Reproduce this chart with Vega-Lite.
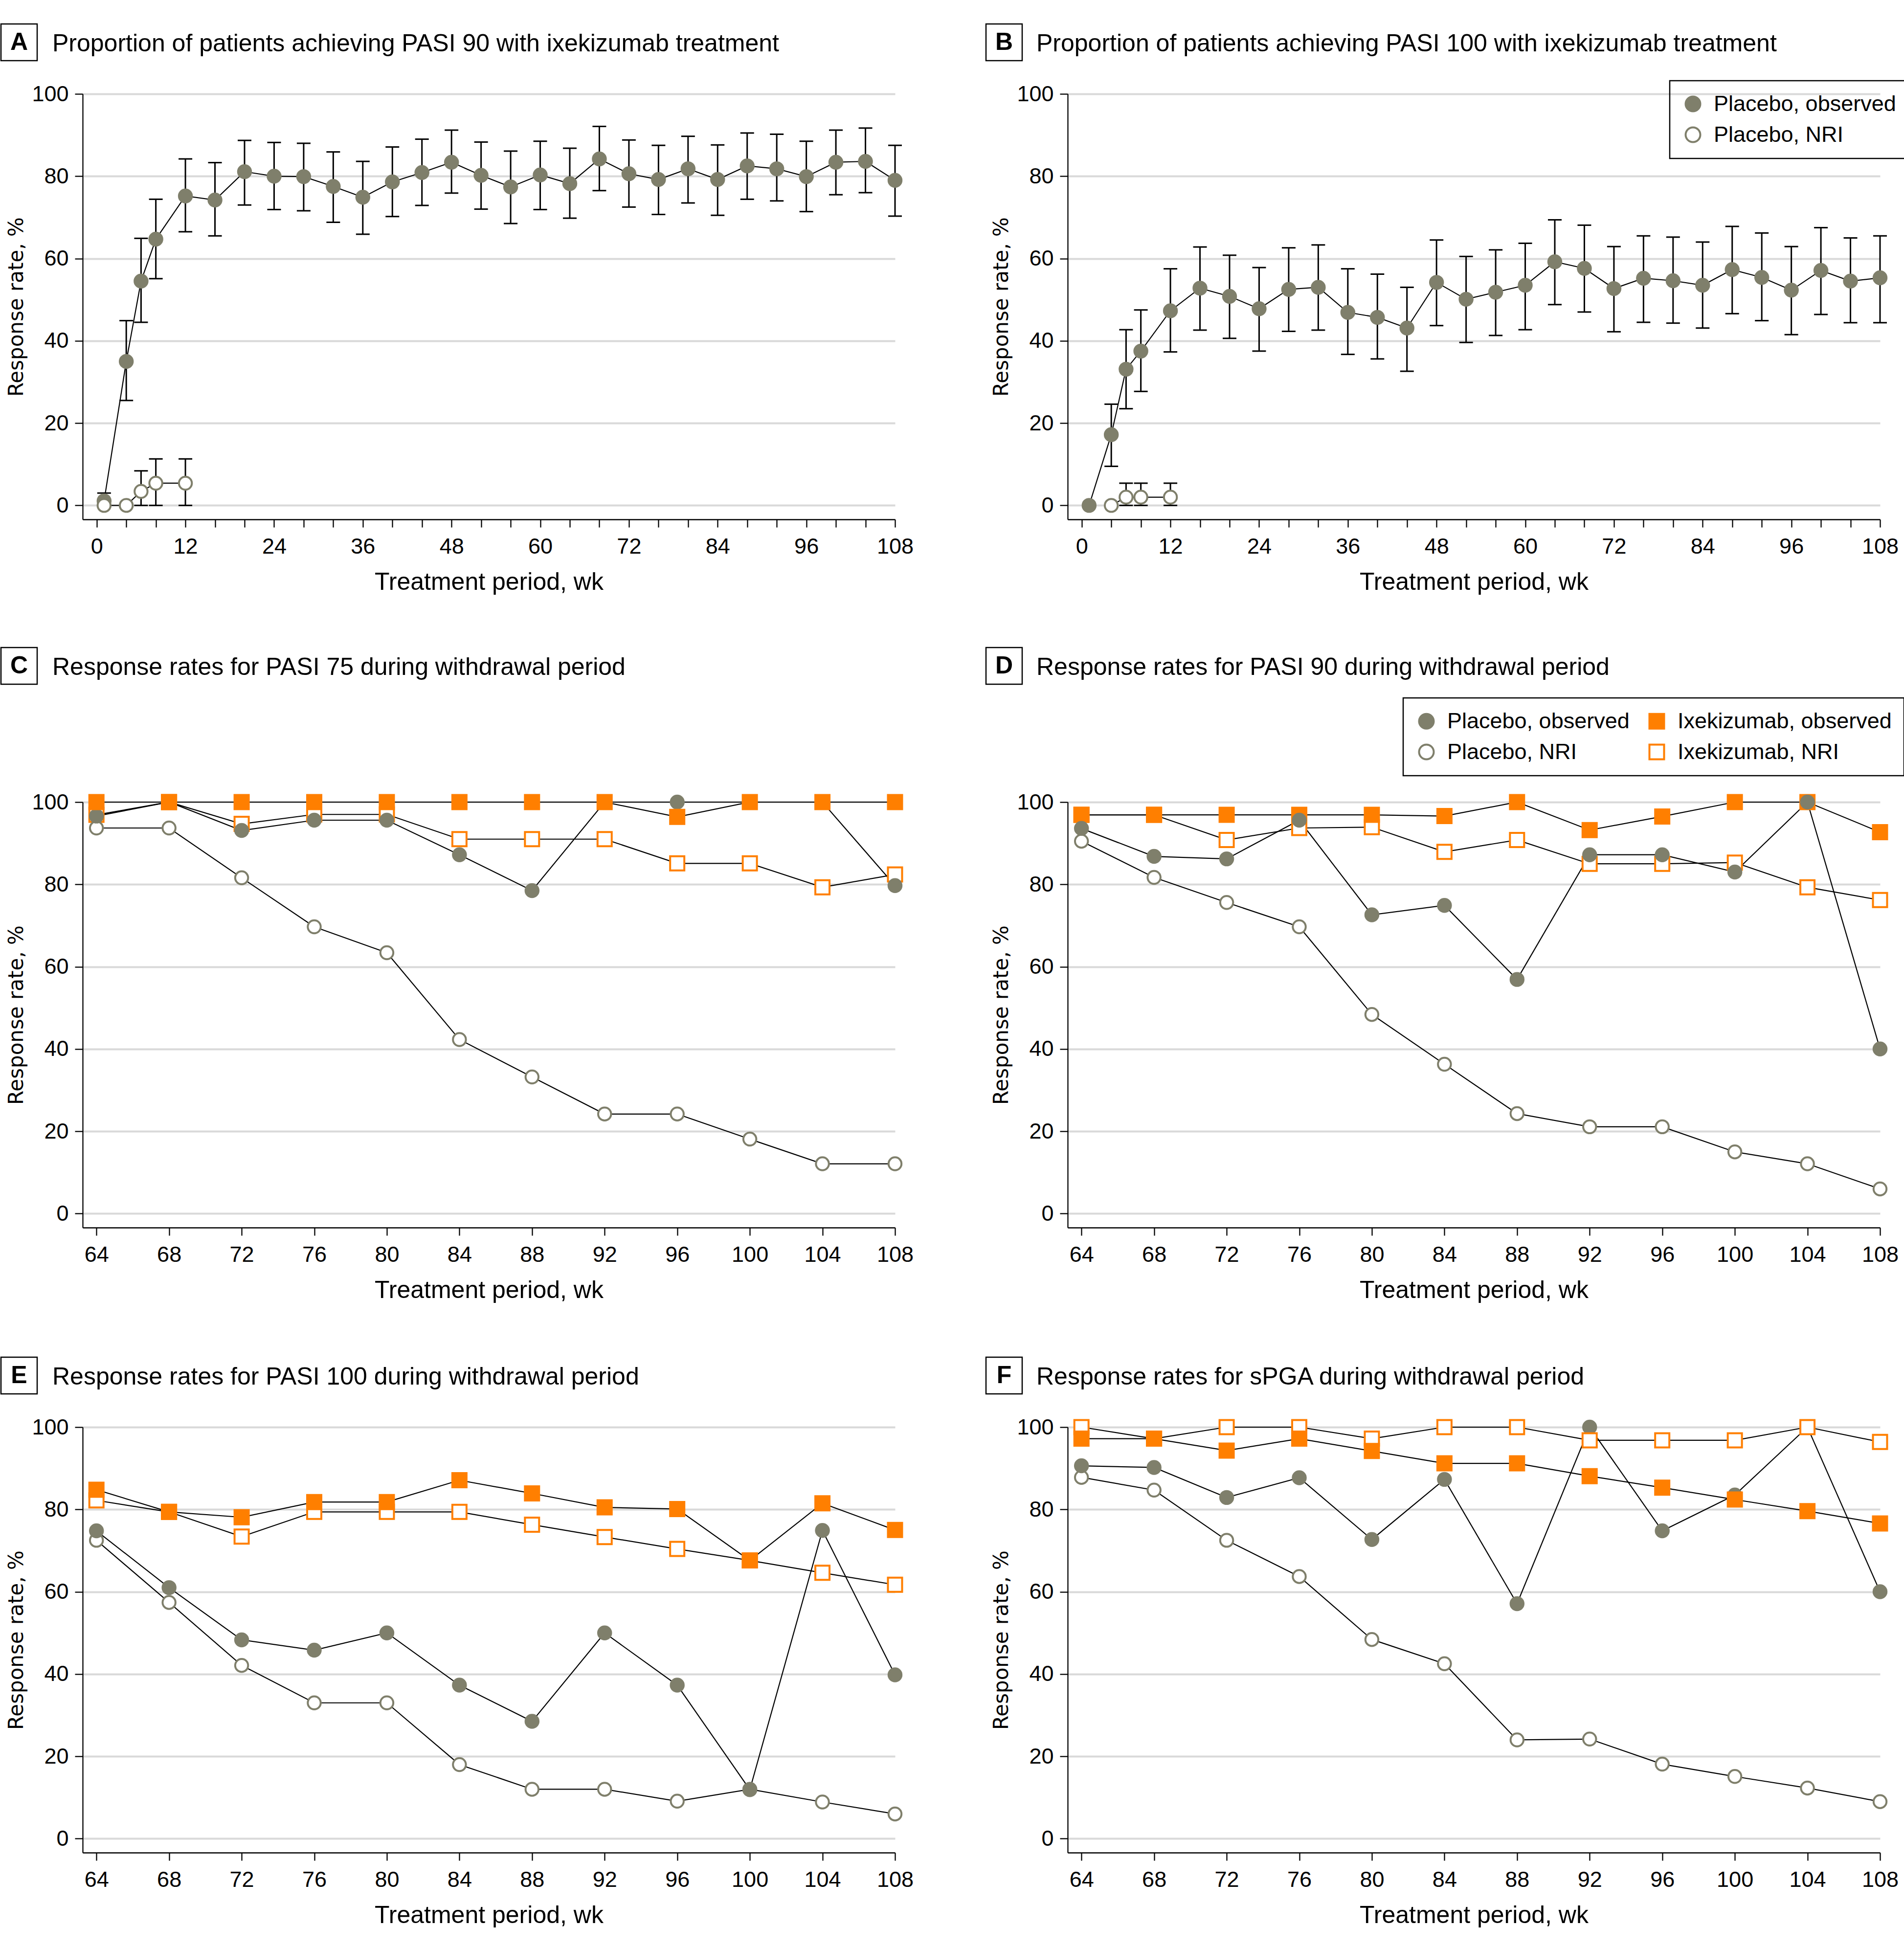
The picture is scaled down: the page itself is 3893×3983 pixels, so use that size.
{
"$schema":"https://vega.github.io/schema/vega-lite/v6.json",
"background":"white",
"padding":{"left":0,"top":47,"right":0,"bottom":0},
"columns":4,"align":"each","bounds":"flush","spacing":{"row":68,"column":93},
"resolve":{"scale":{"x":"independent","y":"independent","shape":"independent","fill":"independent","stroke":"independent"}},
"datasets":{"d":[
{"p":"A","w":1,"s":"Placebo, observed","v":1.1,"lo":0,"hi":3.0},
{"p":"A","w":4,"s":"Placebo, observed","v":35.0,"lo":25.5,"hi":44.9},
{"p":"A","w":6,"s":"Placebo, observed","v":54.5,"lo":44.5,"hi":64.9},
{"p":"A","w":8,"s":"Placebo, observed","v":64.7,"lo":55.1,"hi":74.4},
{"p":"A","w":12,"s":"Placebo, observed","v":75.2,"lo":66.5,"hi":84.2},
{"p":"A","w":16,"s":"Placebo, observed","v":74.2,"lo":65.5,"hi":83.3},
{"p":"A","w":20,"s":"Placebo, observed","v":81.1,"lo":73.0,"hi":88.7},
{"p":"A","w":24,"s":"Placebo, observed","v":80.0,"lo":71.9,"hi":88.2},
{"p":"A","w":28,"s":"Placebo, observed","v":79.9,"lo":71.6,"hi":88.0},
{"p":"A","w":32,"s":"Placebo, observed","v":77.5,"lo":68.8,"hi":85.9},
{"p":"A","w":36,"s":"Placebo, observed","v":74.9,"lo":65.9,"hi":83.6},
{"p":"A","w":40,"s":"Placebo, observed","v":78.6,"lo":70.2,"hi":87.1},
{"p":"A","w":44,"s":"Placebo, observed","v":80.9,"lo":72.9,"hi":89.0},
{"p":"A","w":48,"s":"Placebo, observed","v":83.4,"lo":75.9,"hi":91.2},
{"p":"A","w":52,"s":"Placebo, observed","v":80.2,"lo":72.0,"hi":88.3},
{"p":"A","w":56,"s":"Placebo, observed","v":77.4,"lo":68.5,"hi":86.1},
{"p":"A","w":60,"s":"Placebo, observed","v":80.3,"lo":71.9,"hi":88.5},
{"p":"A","w":64,"s":"Placebo, observed","v":78.2,"lo":69.8,"hi":86.8},
{"p":"A","w":68,"s":"Placebo, observed","v":84.2,"lo":76.5,"hi":92.1},
{"p":"A","w":72,"s":"Placebo, observed","v":80.6,"lo":72.5,"hi":88.8},
{"p":"A","w":76,"s":"Placebo, observed","v":79.2,"lo":70.7,"hi":87.5},
{"p":"A","w":80,"s":"Placebo, observed","v":81.8,"lo":73.5,"hi":89.7},
{"p":"A","w":84,"s":"Placebo, observed","v":79.2,"lo":70.5,"hi":87.6},
{"p":"A","w":88,"s":"Placebo, observed","v":82.5,"lo":74.4,"hi":90.5},
{"p":"A","w":92,"s":"Placebo, observed","v":81.8,"lo":74.0,"hi":90.2},
{"p":"A","w":96,"s":"Placebo, observed","v":79.9,"lo":71.4,"hi":88.5},
{"p":"A","w":100,"s":"Placebo, observed","v":83.4,"lo":75.5,"hi":91.2},
{"p":"A","w":104,"s":"Placebo, observed","v":83.6,"lo":76.0,"hi":91.7},
{"p":"A","w":108,"s":"Placebo, observed","v":79.0,"lo":70.3,"hi":87.5},
{"p":"A","w":1,"s":"Placebo, NRI","v":0},
{"p":"A","w":4,"s":"Placebo, NRI","v":0},
{"p":"A","w":6,"s":"Placebo, NRI","v":3.4,"lo":0,"hi":8.4},
{"p":"A","w":8,"s":"Placebo, NRI","v":5.4,"lo":0,"hi":11.3},
{"p":"A","w":12,"s":"Placebo, NRI","v":5.4,"lo":0,"hi":11.3},
{"p":"B","w":1,"s":"Placebo, observed","v":0},
{"p":"B","w":4,"s":"Placebo, observed","v":17.2,"lo":9.5,"hi":24.6},
{"p":"B","w":6,"s":"Placebo, observed","v":33.1,"lo":23.5,"hi":42.7},
{"p":"B","w":8,"s":"Placebo, observed","v":37.5,"lo":27.7,"hi":47.5},
{"p":"B","w":12,"s":"Placebo, observed","v":47.3,"lo":37.3,"hi":57.5},
{"p":"B","w":16,"s":"Placebo, observed","v":52.8,"lo":42.6,"hi":62.8},
{"p":"B","w":20,"s":"Placebo, observed","v":50.8,"lo":40.6,"hi":60.8},
{"p":"B","w":24,"s":"Placebo, observed","v":47.8,"lo":37.5,"hi":57.8},
{"p":"B","w":28,"s":"Placebo, observed","v":52.5,"lo":42.3,"hi":62.6},
{"p":"B","w":32,"s":"Placebo, observed","v":53.0,"lo":42.6,"hi":63.3},
{"p":"B","w":36,"s":"Placebo, observed","v":46.9,"lo":36.7,"hi":57.5},
{"p":"B","w":40,"s":"Placebo, observed","v":45.7,"lo":35.6,"hi":56.2},
{"p":"B","w":44,"s":"Placebo, observed","v":43.1,"lo":32.6,"hi":53.0},
{"p":"B","w":48,"s":"Placebo, observed","v":54.2,"lo":43.7,"hi":64.5},
{"p":"B","w":52,"s":"Placebo, observed","v":50.1,"lo":39.6,"hi":60.5},
{"p":"B","w":56,"s":"Placebo, observed","v":51.8,"lo":41.3,"hi":62.1},
{"p":"B","w":60,"s":"Placebo, observed","v":53.5,"lo":42.7,"hi":63.7},
{"p":"B","w":64,"s":"Placebo, observed","v":59.2,"lo":48.8,"hi":69.4},
{"p":"B","w":68,"s":"Placebo, observed","v":57.6,"lo":47.0,"hi":68.1},
{"p":"B","w":72,"s":"Placebo, observed","v":52.7,"lo":42.2,"hi":62.9},
{"p":"B","w":76,"s":"Placebo, observed","v":55.2,"lo":44.5,"hi":65.5},
{"p":"B","w":80,"s":"Placebo, observed","v":54.6,"lo":44.3,"hi":65.2},
{"p":"B","w":84,"s":"Placebo, observed","v":53.5,"lo":43.1,"hi":64.0},
{"p":"B","w":88,"s":"Placebo, observed","v":57.3,"lo":46.6,"hi":67.8},
{"p":"B","w":92,"s":"Placebo, observed","v":55.4,"lo":44.9,"hi":66.2},
{"p":"B","w":96,"s":"Placebo, observed","v":52.3,"lo":41.5,"hi":62.9},
{"p":"B","w":100,"s":"Placebo, observed","v":57.1,"lo":46.4,"hi":67.5},
{"p":"B","w":104,"s":"Placebo, observed","v":54.5,"lo":44.4,"hi":65.0},
{"p":"B","w":108,"s":"Placebo, observed","v":55.3,"lo":44.4,"hi":65.5},
{"p":"B","w":4,"s":"Placebo, NRI","v":0},
{"p":"B","w":6,"s":"Placebo, NRI","v":2.0,"lo":0,"hi":5.4},
{"p":"B","w":8,"s":"Placebo, NRI","v":2.0,"lo":0,"hi":5.4},
{"p":"B","w":12,"s":"Placebo, NRI","v":2.0,"lo":0,"hi":5.4},
{"p":"C","w":64,"s":"Ixekizumab, NRI","v":96.9},{"p":"C","w":68,"s":"Ixekizumab, NRI","v":100},{"p":"C","w":72,"s":"Ixekizumab, NRI","v":94.7},{"p":"C","w":76,"s":"Ixekizumab, NRI","v":97.0},{"p":"C","w":80,"s":"Ixekizumab, NRI","v":97.0},{"p":"C","w":84,"s":"Ixekizumab, NRI","v":91.0},{"p":"C","w":88,"s":"Ixekizumab, NRI","v":91.0},{"p":"C","w":92,"s":"Ixekizumab, NRI","v":91.0},{"p":"C","w":96,"s":"Ixekizumab, NRI","v":85.1},{"p":"C","w":100,"s":"Ixekizumab, NRI","v":85.1},{"p":"C","w":104,"s":"Ixekizumab, NRI","v":79.3},{"p":"C","w":108,"s":"Ixekizumab, NRI","v":82.4},
{"p":"C","w":64,"s":"Placebo, NRI","v":93.7},{"p":"C","w":68,"s":"Placebo, NRI","v":93.7},{"p":"C","w":72,"s":"Placebo, NRI","v":81.6},{"p":"C","w":76,"s":"Placebo, NRI","v":69.7},{"p":"C","w":80,"s":"Placebo, NRI","v":63.4},{"p":"C","w":84,"s":"Placebo, NRI","v":42.3},{"p":"C","w":88,"s":"Placebo, NRI","v":33.2},{"p":"C","w":92,"s":"Placebo, NRI","v":24.2},{"p":"C","w":96,"s":"Placebo, NRI","v":24.2},{"p":"C","w":100,"s":"Placebo, NRI","v":18.1},{"p":"C","w":104,"s":"Placebo, NRI","v":12.1},{"p":"C","w":108,"s":"Placebo, NRI","v":12.1},
{"p":"C","w":64,"s":"Placebo, observed","v":96.6},{"p":"C","w":68,"s":"Placebo, observed","v":100},{"p":"C","w":72,"s":"Placebo, observed","v":93.1},{"p":"C","w":76,"s":"Placebo, observed","v":95.6},{"p":"C","w":80,"s":"Placebo, observed","v":95.6},{"p":"C","w":84,"s":"Placebo, observed","v":87.2},{"p":"C","w":88,"s":"Placebo, observed","v":78.5},{"p":"C","w":92,"s":"Placebo, observed","v":100},{"p":"C","w":96,"s":"Placebo, observed","v":100},{"p":"C","w":100,"s":"Placebo, observed","v":100},{"p":"C","w":104,"s":"Placebo, observed","v":100},{"p":"C","w":108,"s":"Placebo, observed","v":79.7},
{"p":"C","w":64,"s":"Ixekizumab, observed","v":100},{"p":"C","w":68,"s":"Ixekizumab, observed","v":100},{"p":"C","w":72,"s":"Ixekizumab, observed","v":100},{"p":"C","w":76,"s":"Ixekizumab, observed","v":100},{"p":"C","w":80,"s":"Ixekizumab, observed","v":100},{"p":"C","w":84,"s":"Ixekizumab, observed","v":100},{"p":"C","w":88,"s":"Ixekizumab, observed","v":100},{"p":"C","w":92,"s":"Ixekizumab, observed","v":100},{"p":"C","w":96,"s":"Ixekizumab, observed","v":96.4},{"p":"C","w":100,"s":"Ixekizumab, observed","v":100},{"p":"C","w":104,"s":"Ixekizumab, observed","v":100},{"p":"C","w":108,"s":"Ixekizumab, observed","v":100},
{"p":"D","w":64,"s":"Ixekizumab, NRI","v":96.9},{"p":"D","w":68,"s":"Ixekizumab, NRI","v":96.9},{"p":"D","w":72,"s":"Ixekizumab, NRI","v":90.8},{"p":"D","w":76,"s":"Ixekizumab, NRI","v":93.7},{"p":"D","w":80,"s":"Ixekizumab, NRI","v":93.9},{"p":"D","w":84,"s":"Ixekizumab, NRI","v":87.9},{"p":"D","w":88,"s":"Ixekizumab, NRI","v":90.8},{"p":"D","w":92,"s":"Ixekizumab, NRI","v":85.0},{"p":"D","w":96,"s":"Ixekizumab, NRI","v":85.0},{"p":"D","w":100,"s":"Ixekizumab, NRI","v":85.3},{"p":"D","w":104,"s":"Ixekizumab, NRI","v":79.3},{"p":"D","w":108,"s":"Ixekizumab, NRI","v":76.2},
{"p":"D","w":64,"s":"Placebo, NRI","v":90.5},{"p":"D","w":68,"s":"Placebo, NRI","v":81.7},{"p":"D","w":72,"s":"Placebo, NRI","v":75.6},{"p":"D","w":76,"s":"Placebo, NRI","v":69.7},{"p":"D","w":80,"s":"Placebo, NRI","v":48.4},{"p":"D","w":84,"s":"Placebo, NRI","v":36.3},{"p":"D","w":88,"s":"Placebo, NRI","v":24.3},{"p":"D","w":92,"s":"Placebo, NRI","v":21.1},{"p":"D","w":96,"s":"Placebo, NRI","v":21.1},{"p":"D","w":100,"s":"Placebo, NRI","v":15.0},{"p":"D","w":104,"s":"Placebo, NRI","v":12.1},{"p":"D","w":108,"s":"Placebo, NRI","v":6.0},
{"p":"D","w":64,"s":"Placebo, observed","v":93.6},{"p":"D","w":68,"s":"Placebo, observed","v":86.8},{"p":"D","w":72,"s":"Placebo, observed","v":86.2},{"p":"D","w":76,"s":"Placebo, observed","v":95.6},{"p":"D","w":80,"s":"Placebo, observed","v":72.6},{"p":"D","w":84,"s":"Placebo, observed","v":74.9},{"p":"D","w":88,"s":"Placebo, observed","v":56.9},{"p":"D","w":92,"s":"Placebo, observed","v":87.2},{"p":"D","w":96,"s":"Placebo, observed","v":87.2},{"p":"D","w":100,"s":"Placebo, observed","v":83.0},{"p":"D","w":104,"s":"Placebo, observed","v":100},{"p":"D","w":108,"s":"Placebo, observed","v":40.0},
{"p":"D","w":64,"s":"Ixekizumab, observed","v":96.9},{"p":"D","w":68,"s":"Ixekizumab, observed","v":96.9},{"p":"D","w":72,"s":"Ixekizumab, observed","v":96.9},{"p":"D","w":76,"s":"Ixekizumab, observed","v":96.9},{"p":"D","w":80,"s":"Ixekizumab, observed","v":96.9},{"p":"D","w":84,"s":"Ixekizumab, observed","v":96.6},{"p":"D","w":88,"s":"Ixekizumab, observed","v":100},{"p":"D","w":92,"s":"Ixekizumab, observed","v":93.2},{"p":"D","w":96,"s":"Ixekizumab, observed","v":96.5},{"p":"D","w":100,"s":"Ixekizumab, observed","v":100},{"p":"D","w":104,"s":"Ixekizumab, observed","v":100},{"p":"D","w":108,"s":"Ixekizumab, observed","v":92.7},
{"p":"E","w":64,"s":"Ixekizumab, NRI","v":82.2},{"p":"E","w":68,"s":"Ixekizumab, NRI","v":79.4},{"p":"E","w":72,"s":"Ixekizumab, NRI","v":73.4},{"p":"E","w":76,"s":"Ixekizumab, NRI","v":79.4},{"p":"E","w":80,"s":"Ixekizumab, NRI","v":79.4},{"p":"E","w":84,"s":"Ixekizumab, NRI","v":79.4},{"p":"E","w":88,"s":"Ixekizumab, NRI","v":76.3},{"p":"E","w":92,"s":"Ixekizumab, NRI","v":73.3},{"p":"E","w":96,"s":"Ixekizumab, NRI","v":70.4},{"p":"E","w":100,"s":"Ixekizumab, NRI","v":67.6},{"p":"E","w":104,"s":"Ixekizumab, NRI","v":64.6},{"p":"E","w":108,"s":"Ixekizumab, NRI","v":61.7},
{"p":"E","w":64,"s":"Placebo, NRI","v":72.5},{"p":"E","w":68,"s":"Placebo, NRI","v":57.4},{"p":"E","w":72,"s":"Placebo, NRI","v":42.1},{"p":"E","w":76,"s":"Placebo, NRI","v":33.0},{"p":"E","w":80,"s":"Placebo, NRI","v":33.0},{"p":"E","w":84,"s":"Placebo, NRI","v":18.0},{"p":"E","w":88,"s":"Placebo, NRI","v":12.0},{"p":"E","w":92,"s":"Placebo, NRI","v":12.0},{"p":"E","w":96,"s":"Placebo, NRI","v":9.1},{"p":"E","w":100,"s":"Placebo, NRI","v":12.0},{"p":"E","w":104,"s":"Placebo, NRI","v":8.9},{"p":"E","w":108,"s":"Placebo, NRI","v":6.0},
{"p":"E","w":64,"s":"Placebo, observed","v":74.8},{"p":"E","w":68,"s":"Placebo, observed","v":61.0},{"p":"E","w":72,"s":"Placebo, observed","v":48.3},{"p":"E","w":76,"s":"Placebo, observed","v":45.8},{"p":"E","w":80,"s":"Placebo, observed","v":50.0},{"p":"E","w":84,"s":"Placebo, observed","v":37.3},{"p":"E","w":88,"s":"Placebo, observed","v":28.5},{"p":"E","w":92,"s":"Placebo, observed","v":50.0},{"p":"E","w":96,"s":"Placebo, observed","v":37.3},{"p":"E","w":100,"s":"Placebo, observed","v":11.9},{"p":"E","w":104,"s":"Placebo, observed","v":74.9},{"p":"E","w":108,"s":"Placebo, observed","v":39.8},
{"p":"E","w":64,"s":"Ixekizumab, observed","v":84.8},{"p":"E","w":68,"s":"Ixekizumab, observed","v":79.4},{"p":"E","w":72,"s":"Ixekizumab, observed","v":78.1},{"p":"E","w":76,"s":"Ixekizumab, observed","v":81.8},{"p":"E","w":80,"s":"Ixekizumab, observed","v":81.8},{"p":"E","w":84,"s":"Ixekizumab, observed","v":87.1},{"p":"E","w":88,"s":"Ixekizumab, observed","v":83.9},{"p":"E","w":92,"s":"Ixekizumab, observed","v":80.5},{"p":"E","w":96,"s":"Ixekizumab, observed","v":80.1},{"p":"E","w":100,"s":"Ixekizumab, observed","v":67.6},{"p":"E","w":104,"s":"Ixekizumab, observed","v":81.5},{"p":"E","w":108,"s":"Ixekizumab, observed","v":75.0},
{"p":"F","w":64,"s":"Ixekizumab, NRI","v":100},{"p":"F","w":68,"s":"Ixekizumab, NRI","v":97.2},{"p":"F","w":72,"s":"Ixekizumab, NRI","v":100},{"p":"F","w":76,"s":"Ixekizumab, NRI","v":100},{"p":"F","w":80,"s":"Ixekizumab, NRI","v":97.2},{"p":"F","w":84,"s":"Ixekizumab, NRI","v":100},{"p":"F","w":88,"s":"Ixekizumab, NRI","v":100},{"p":"F","w":92,"s":"Ixekizumab, NRI","v":96.8},{"p":"F","w":96,"s":"Ixekizumab, NRI","v":96.8},{"p":"F","w":100,"s":"Ixekizumab, NRI","v":96.8},{"p":"F","w":104,"s":"Ixekizumab, NRI","v":100},{"p":"F","w":108,"s":"Ixekizumab, NRI","v":96.4},
{"p":"F","w":64,"s":"Placebo, NRI","v":87.8},{"p":"F","w":68,"s":"Placebo, NRI","v":84.7},{"p":"F","w":72,"s":"Placebo, NRI","v":72.5},{"p":"F","w":76,"s":"Placebo, NRI","v":63.7},{"p":"F","w":80,"s":"Placebo, NRI","v":48.4},{"p":"F","w":84,"s":"Placebo, NRI","v":42.5},{"p":"F","w":88,"s":"Placebo, NRI","v":24.0},{"p":"F","w":92,"s":"Placebo, NRI","v":24.2},{"p":"F","w":96,"s":"Placebo, NRI","v":18.1},{"p":"F","w":100,"s":"Placebo, NRI","v":15.1},{"p":"F","w":104,"s":"Placebo, NRI","v":12.3},{"p":"F","w":108,"s":"Placebo, NRI","v":9.0},
{"p":"F","w":64,"s":"Placebo, observed","v":90.6},{"p":"F","w":68,"s":"Placebo, observed","v":90.2},{"p":"F","w":72,"s":"Placebo, observed","v":82.9},{"p":"F","w":76,"s":"Placebo, observed","v":87.7},{"p":"F","w":80,"s":"Placebo, observed","v":72.7},{"p":"F","w":84,"s":"Placebo, observed","v":87.3},{"p":"F","w":88,"s":"Placebo, observed","v":57.1},{"p":"F","w":92,"s":"Placebo, observed","v":100},{"p":"F","w":96,"s":"Placebo, observed","v":74.8},{"p":"F","w":100,"s":"Placebo, observed","v":83.5},{"p":"F","w":104,"s":"Placebo, observed","v":100},{"p":"F","w":108,"s":"Placebo, observed","v":60.0},
{"p":"F","w":64,"s":"Ixekizumab, observed","v":97.2},{"p":"F","w":68,"s":"Ixekizumab, observed","v":97.2},{"p":"F","w":72,"s":"Ixekizumab, observed","v":94.3},{"p":"F","w":76,"s":"Ixekizumab, observed","v":97.2},{"p":"F","w":80,"s":"Ixekizumab, observed","v":94.2},{"p":"F","w":84,"s":"Ixekizumab, observed","v":91.2},{"p":"F","w":88,"s":"Ixekizumab, observed","v":91.2},{"p":"F","w":92,"s":"Ixekizumab, observed","v":88.1},{"p":"F","w":96,"s":"Ixekizumab, observed","v":85.3},{"p":"F","w":100,"s":"Ixekizumab, observed","v":82.4},{"p":"F","w":104,"s":"Ixekizumab, observed","v":79.6},{"p":"F","w":108,"s":"Ixekizumab, observed","v":76.6}
]},
"concat":[
{"width":74,"height":75,"view":{"stroke":"#000","strokeWidth":2.5},"data":{"values":[{"l":"A"}]},"mark":{"type":"text","fontSize":50,"fontWeight":"bold","font":"Liberation Sans","color":"#000"},"encoding":{"text":{"field":"l","type":"nominal"}}},
{"width":1754,"height":1,"data":{"values":[]},"mark":"point","title":{"text":"Proportion of patients achieving PASI 90 with ixekizumab treatment","orient":"bottom","anchor":"start","align":"left","offset":15,"dx":-62,"frame":"group"}},
{"width":74,"height":75,"view":{"stroke":"#000","strokeWidth":2.5},"data":{"values":[{"l":"B"}]},"mark":{"type":"text","fontSize":50,"fontWeight":"bold","font":"Liberation Sans","color":"#000"},"encoding":{"text":{"field":"l","type":"nominal"}}},
{"width":1,"height":1,"data":{"values":[]},"mark":"point","title":{"text":"Proportion of patients achieving PASI 100 with ixekizumab treatment","orient":"bottom","anchor":"start","align":"left","offset":15,"dx":-64,"frame":"group"}},

{"width":1,"height":1064,"data":{"values":[]},"mark":"point"},
{"width":1661,"height":870,"data":{"name":"d"},"transform":[{"filter":"datum.p==='A'"}],
 "encoding":{"x":{"field":"w","type":"quantitative","scale":{"domain":[-1.9,108],"nice":false,"zero":false},"axis":{"title":"Treatment period, wk","values":[0,4,8,12,16,20,24,28,32,36,40,44,48,52,56,60,64,68,72,76,80,84,88,92,96,100,104,108],"labelExpr":"datum.value % 12 === 0 ? datum.label : ''"}},
  "y":{"field":"v","type":"quantitative","title":"Response rate, %","scale":{"domain":[-3.4,100],"nice":false,"zero":false},"axis":{"values":[0,20,40,60,80,100]}}},
 "layer":[
  {"mark":{"type":"line","color":"#000","strokeWidth":2.2},"encoding":{"detail":{"field":"s","type":"nominal"}}},
  {"transform":[{"filter":"isValid(datum.lo)"}],"mark":{"type":"rule","color":"#000","strokeWidth":3},"encoding":{"y":{"field":"lo","type":"quantitative","title":"Response rate, %"},"y2":{"field":"hi"}}},
  {"transform":[{"filter":"isValid(datum.lo)"}],"mark":{"type":"tick","orient":"horizontal","size":28,"thickness":3,"color":"#000","opacity":1},"encoding":{"y":{"field":"lo","type":"quantitative","title":"Response rate, %"}}},
  {"transform":[{"filter":"isValid(datum.hi)"}],"mark":{"type":"tick","orient":"horizontal","size":28,"thickness":3,"color":"#000","opacity":1},"encoding":{"y":{"field":"hi","type":"quantitative","title":"Response rate, %"}}},
  {"mark":{"type":"point","filled":true,"strokeWidth":4,"opacity":1,"size":700},"encoding":{
   "shape":{"field":"s","type":"nominal","scale":{"domain":["Placebo, observed","Placebo, NRI"],"range":["circle","circle"]},"legend":null},
   "fill":{"field":"s","type":"nominal","scale":{"domain":["Placebo, observed","Placebo, NRI"],"range":["#7f7f6b","#ffffff"]},"legend":null},
   "stroke":{"field":"s","type":"nominal","scale":{"domain":["Placebo, observed","Placebo, NRI"],"range":["#7f7f6b","#7f7f6b"]},"legend":null}}}
 ]},
{"width":1,"height":1,"data":{"values":[]},"mark":"point"},
{"width":1661,"height":870,"data":{"name":"d"},"transform":[{"filter":"datum.p==='B'"}],
 "encoding":{"x":{"field":"w","type":"quantitative","scale":{"domain":[-1.9,108],"nice":false,"zero":false},"axis":{"title":"Treatment period, wk","values":[0,4,8,12,16,20,24,28,32,36,40,44,48,52,56,60,64,68,72,76,80,84,88,92,96,100,104,108],"labelExpr":"datum.value % 12 === 0 ? datum.label : ''"}},
  "y":{"field":"v","type":"quantitative","title":"Response rate, %","scale":{"domain":[-3.4,100],"nice":false,"zero":false},"axis":{"values":[0,20,40,60,80,100]}}},
 "layer":[
  {"mark":{"type":"line","color":"#000","strokeWidth":2.2},"encoding":{"detail":{"field":"s","type":"nominal"}}},
  {"transform":[{"filter":"isValid(datum.lo)"}],"mark":{"type":"rule","color":"#000","strokeWidth":3},"encoding":{"y":{"field":"lo","type":"quantitative","title":"Response rate, %"},"y2":{"field":"hi"}}},
  {"transform":[{"filter":"isValid(datum.lo)"}],"mark":{"type":"tick","orient":"horizontal","size":28,"thickness":3,"color":"#000","opacity":1},"encoding":{"y":{"field":"lo","type":"quantitative","title":"Response rate, %"}}},
  {"transform":[{"filter":"isValid(datum.hi)"}],"mark":{"type":"tick","orient":"horizontal","size":28,"thickness":3,"color":"#000","opacity":1},"encoding":{"y":{"field":"hi","type":"quantitative","title":"Response rate, %"}}},
  {"mark":{"type":"point","filled":true,"strokeWidth":4,"opacity":1,"size":700},"encoding":{
   "shape":{"field":"s","type":"nominal","scale":{"domain":["Placebo, observed","Placebo, NRI"],"range":["circle","circle"]},"legend":{"title":null,"orient":"none","legendX":1231,"legendY":-27}},
   "fill":{"field":"s","type":"nominal","scale":{"domain":["Placebo, observed","Placebo, NRI"],"range":["#7f7f6b","#ffffff"]},"legend":{"title":null,"orient":"none","legendX":1231,"legendY":-27}},
   "stroke":{"field":"s","type":"nominal","scale":{"domain":["Placebo, observed","Placebo, NRI"],"range":["#7f7f6b","#7f7f6b"]},"legend":{"title":null,"orient":"none","legendX":1231,"legendY":-27}}}}
 ]},

{"width":74,"height":75,"view":{"stroke":"#000","strokeWidth":2.5},"data":{"values":[{"l":"C"}]},"mark":{"type":"text","fontSize":50,"fontWeight":"bold","font":"Liberation Sans","color":"#000"},"encoding":{"text":{"field":"l","type":"nominal"}}},
{"width":1754,"height":1,"data":{"values":[]},"mark":"point","title":{"text":"Response rates for PASI 75 during withdrawal period","orient":"bottom","anchor":"start","align":"left","offset":15,"dx":-62,"frame":"group"}},
{"width":74,"height":75,"view":{"stroke":"#000","strokeWidth":2.5},"data":{"values":[{"l":"D"}]},"mark":{"type":"text","fontSize":50,"fontWeight":"bold","font":"Liberation Sans","color":"#000"},"encoding":{"text":{"field":"l","type":"nominal"}}},
{"width":1,"height":1,"data":{"values":[]},"mark":"point","title":{"text":"Response rates for PASI 90 during withdrawal period","orient":"bottom","anchor":"start","align":"left","offset":15,"dx":-64,"frame":"group"}},

{"width":1,"height":105,"data":{"values":[]},"mark":"point"},
{"width":1,"height":1,"data":{"values":[]},"mark":"point"},
{"width":1,"height":1,"data":{"values":[]},"mark":"point"},
{"width":1,"height":1,"data":{"values":[]},"mark":"point"},

{"width":1,"height":1067,"data":{"values":[]},"mark":"point"},
{"width":1661,"height":870,"data":{"name":"d"},"transform":[{"filter":"datum.p==='C'"}],
 "encoding":{"x":{"field":"w","type":"quantitative","scale":{"domain":[63.24,108],"nice":false,"zero":false},"axis":{"title":"Treatment period, wk","values":[64,68,72,76,80,84,88,92,96,100,104,108]}},
  "y":{"field":"v","type":"quantitative","title":"Response rate, %","scale":{"domain":[-3.4,100],"nice":false,"zero":false},"axis":{"values":[0,20,40,60,80,100]}},
  "shape":{"field":"s","type":"nominal","scale":{"domain":["Placebo, observed","Placebo, NRI","Ixekizumab, observed","Ixekizumab, NRI"],"range":["circle","circle","square","square"]},"legend":null},
  "fill":{"field":"s","type":"nominal","scale":{"domain":["Placebo, observed","Placebo, NRI","Ixekizumab, observed","Ixekizumab, NRI"],"range":["#7f7f6b","#ffffff","#ff7f00","#ffffff"]},"legend":null},
  "stroke":{"field":"s","type":"nominal","scale":{"domain":["Placebo, observed","Placebo, NRI","Ixekizumab, observed","Ixekizumab, NRI"],"range":["#7f7f6b","#7f7f6b","#ff7f00","#ff7f00"]},"legend":null}},
 "layer":[
  {"mark":{"type":"line","color":"#000","strokeWidth":2.2},"encoding":{"detail":{"field":"s","type":"nominal"},"shape":null,"fill":null,"stroke":null}},
  {"transform":[{"filter":"datum.s==='Ixekizumab, NRI'"}],"mark":{"type":"point","filled":true,"strokeWidth":4,"opacity":1,"size":841}},
  {"transform":[{"filter":"datum.s==='Placebo, NRI'"}],"mark":{"type":"point","filled":true,"strokeWidth":4,"opacity":1,"size":700}},
  {"transform":[{"filter":"datum.s==='Placebo, observed'"}],"mark":{"type":"point","filled":true,"strokeWidth":4,"opacity":1,"size":700}},
  {"transform":[{"filter":"datum.s==='Ixekizumab, observed'"}],"mark":{"type":"point","filled":true,"strokeWidth":4,"opacity":1,"size":841}}
 ]},
{"width":1,"height":1,"data":{"values":[]},"mark":"point"},
{"width":1661,"height":870,"data":{"name":"d"},"transform":[{"filter":"datum.p==='D'"}],
 "encoding":{"x":{"field":"w","type":"quantitative","scale":{"domain":[63.24,108],"nice":false,"zero":false},"axis":{"title":"Treatment period, wk","values":[64,68,72,76,80,84,88,92,96,100,104,108]}},
  "y":{"field":"v","type":"quantitative","title":"Response rate, %","scale":{"domain":[-3.4,100],"nice":false,"zero":false},"axis":{"values":[0,20,40,60,80,100]}},
  "shape":{"field":"s","type":"nominal","scale":{"domain":["Placebo, observed","Placebo, NRI","Ixekizumab, observed","Ixekizumab, NRI"],"range":["circle","circle","square","square"]},"legend":{"title":null,"orient":"none","legendX":686,"legendY":-213,"columns":2}},
  "fill":{"field":"s","type":"nominal","scale":{"domain":["Placebo, observed","Placebo, NRI","Ixekizumab, observed","Ixekizumab, NRI"],"range":["#7f7f6b","#ffffff","#ff7f00","#ffffff"]},"legend":{"title":null,"orient":"none","legendX":686,"legendY":-213,"columns":2}},
  "stroke":{"field":"s","type":"nominal","scale":{"domain":["Placebo, observed","Placebo, NRI","Ixekizumab, observed","Ixekizumab, NRI"],"range":["#7f7f6b","#7f7f6b","#ff7f00","#ff7f00"]},"legend":{"title":null,"orient":"none","legendX":686,"legendY":-213,"columns":2}}},
 "layer":[
  {"mark":{"type":"line","color":"#000","strokeWidth":2.2},"encoding":{"detail":{"field":"s","type":"nominal"},"shape":null,"fill":null,"stroke":null}},
  {"transform":[{"filter":"datum.s==='Ixekizumab, NRI'"}],"mark":{"type":"point","filled":true,"strokeWidth":4,"opacity":1,"size":841}},
  {"transform":[{"filter":"datum.s==='Ixekizumab, observed'"}],"mark":{"type":"point","filled":true,"strokeWidth":4,"opacity":1,"size":841}},
  {"transform":[{"filter":"datum.s==='Placebo, NRI'"}],"mark":{"type":"point","filled":true,"strokeWidth":4,"opacity":1,"size":700}},
  {"transform":[{"filter":"datum.s==='Placebo, observed'"}],"mark":{"type":"point","filled":true,"strokeWidth":4,"opacity":1,"size":700}}
 ]},

{"width":74,"height":75,"view":{"stroke":"#000","strokeWidth":2.5},"data":{"values":[{"l":"E"}]},"mark":{"type":"text","fontSize":50,"fontWeight":"bold","font":"Liberation Sans","color":"#000"},"encoding":{"text":{"field":"l","type":"nominal"}}},
{"width":1754,"height":1,"data":{"values":[]},"mark":"point","title":{"text":"Response rates for PASI 100 during withdrawal period","orient":"bottom","anchor":"start","align":"left","offset":15,"dx":-62,"frame":"group"}},
{"width":74,"height":75,"view":{"stroke":"#000","strokeWidth":2.5},"data":{"values":[{"l":"F"}]},"mark":{"type":"text","fontSize":50,"fontWeight":"bold","font":"Liberation Sans","color":"#000"},"encoding":{"text":{"field":"l","type":"nominal"}}},
{"width":1,"height":1,"data":{"values":[]},"mark":"point","title":{"text":"Response rates for sPGA during withdrawal period","orient":"bottom","anchor":"start","align":"left","offset":15,"dx":-64,"frame":"group"}},

{"width":1,"height":1,"data":{"values":[]},"mark":"point"},
{"width":1661,"height":870,"data":{"name":"d"},"transform":[{"filter":"datum.p==='E'"}],
 "encoding":{"x":{"field":"w","type":"quantitative","scale":{"domain":[63.24,108],"nice":false,"zero":false},"axis":{"title":"Treatment period, wk","values":[64,68,72,76,80,84,88,92,96,100,104,108]}},
  "y":{"field":"v","type":"quantitative","title":"Response rate, %","scale":{"domain":[-3.4,100],"nice":false,"zero":false},"axis":{"values":[0,20,40,60,80,100]}},
  "shape":{"field":"s","type":"nominal","scale":{"domain":["Placebo, observed","Placebo, NRI","Ixekizumab, observed","Ixekizumab, NRI"],"range":["circle","circle","square","square"]},"legend":null},
  "fill":{"field":"s","type":"nominal","scale":{"domain":["Placebo, observed","Placebo, NRI","Ixekizumab, observed","Ixekizumab, NRI"],"range":["#7f7f6b","#ffffff","#ff7f00","#ffffff"]},"legend":null},
  "stroke":{"field":"s","type":"nominal","scale":{"domain":["Placebo, observed","Placebo, NRI","Ixekizumab, observed","Ixekizumab, NRI"],"range":["#7f7f6b","#7f7f6b","#ff7f00","#ff7f00"]},"legend":null}},
 "layer":[
  {"mark":{"type":"line","color":"#000","strokeWidth":2.2},"encoding":{"detail":{"field":"s","type":"nominal"},"shape":null,"fill":null,"stroke":null}},
  {"transform":[{"filter":"datum.s==='Placebo, NRI'"}],"mark":{"type":"point","filled":true,"strokeWidth":4,"opacity":1,"size":700}},
  {"transform":[{"filter":"datum.s==='Placebo, observed'"}],"mark":{"type":"point","filled":true,"strokeWidth":4,"opacity":1,"size":700}},
  {"transform":[{"filter":"datum.s==='Ixekizumab, NRI'"}],"mark":{"type":"point","filled":true,"strokeWidth":4,"opacity":1,"size":841}},
  {"transform":[{"filter":"datum.s==='Ixekizumab, observed'"}],"mark":{"type":"point","filled":true,"strokeWidth":4,"opacity":1,"size":841}}
 ]},
{"width":1,"height":1,"data":{"values":[]},"mark":"point"},
{"width":1661,"height":870,"data":{"name":"d"},"transform":[{"filter":"datum.p==='F'"}],
 "encoding":{"x":{"field":"w","type":"quantitative","scale":{"domain":[63.24,108],"nice":false,"zero":false},"axis":{"title":"Treatment period, wk","values":[64,68,72,76,80,84,88,92,96,100,104,108]}},
  "y":{"field":"v","type":"quantitative","title":"Response rate, %","scale":{"domain":[-3.4,100],"nice":false,"zero":false},"axis":{"values":[0,20,40,60,80,100]}},
  "shape":{"field":"s","type":"nominal","scale":{"domain":["Placebo, observed","Placebo, NRI","Ixekizumab, observed","Ixekizumab, NRI"],"range":["circle","circle","square","square"]},"legend":null},
  "fill":{"field":"s","type":"nominal","scale":{"domain":["Placebo, observed","Placebo, NRI","Ixekizumab, observed","Ixekizumab, NRI"],"range":["#7f7f6b","#ffffff","#ff7f00","#ffffff"]},"legend":null},
  "stroke":{"field":"s","type":"nominal","scale":{"domain":["Placebo, observed","Placebo, NRI","Ixekizumab, observed","Ixekizumab, NRI"],"range":["#7f7f6b","#7f7f6b","#ff7f00","#ff7f00"]},"legend":null}},
 "layer":[
  {"mark":{"type":"line","color":"#000","strokeWidth":2.2},"encoding":{"detail":{"field":"s","type":"nominal"},"shape":null,"fill":null,"stroke":null}},
  {"transform":[{"filter":"datum.s==='Placebo, NRI'"}],"mark":{"type":"point","filled":true,"strokeWidth":4,"opacity":1,"size":700}},
  {"transform":[{"filter":"datum.s==='Placebo, observed'"}],"mark":{"type":"point","filled":true,"strokeWidth":4,"opacity":1,"size":700}},
  {"transform":[{"filter":"datum.s==='Ixekizumab, NRI'"}],"mark":{"type":"point","filled":true,"strokeWidth":4,"opacity":1,"size":841}},
  {"transform":[{"filter":"datum.s==='Ixekizumab, observed'"}],"mark":{"type":"point","filled":true,"strokeWidth":4,"opacity":1,"size":841}}
 ]}
],
"config":{
 "view":{"stroke":null},
 "font":"Liberation Sans",
 "axis":{"labelFont":"Liberation Sans","labelFontSize":45,"labelColor":"#000","domainColor":"#000","domainWidth":2.3,"tickColor":"#000","tickWidth":2.3,"tickSize":16,"gridColor":"#d9d9d9","gridWidth":4,"titleColor":"#000","titleFontWeight":"normal","labelOverlap":false,"labelFlush":false},
 "axisX":{"grid":false,"labelPadding":17,"titleFont":"Liberation Sans","titleFontSize":50,"titlePadding":25},
 "axisY":{"grid":true,"labelPadding":13,"titleFont":"DejaVu Sans","titleFontSize":42,"titlePadding":9},
 "legend":{"labelFont":"Liberation Sans","labelFontSize":45,"labelColor":"#000","padding":25,"rowPadding":16,"columnPadding":32,"labelOffset":20,"symbolSize":900,"symbolStrokeWidth":4,"strokeColor":"#000","strokeWidth":2.5,"labelLimit":1000},
 "title":{"font":"Liberation Sans","fontSize":50,"fontWeight":"normal","color":"#000"}
}
}
